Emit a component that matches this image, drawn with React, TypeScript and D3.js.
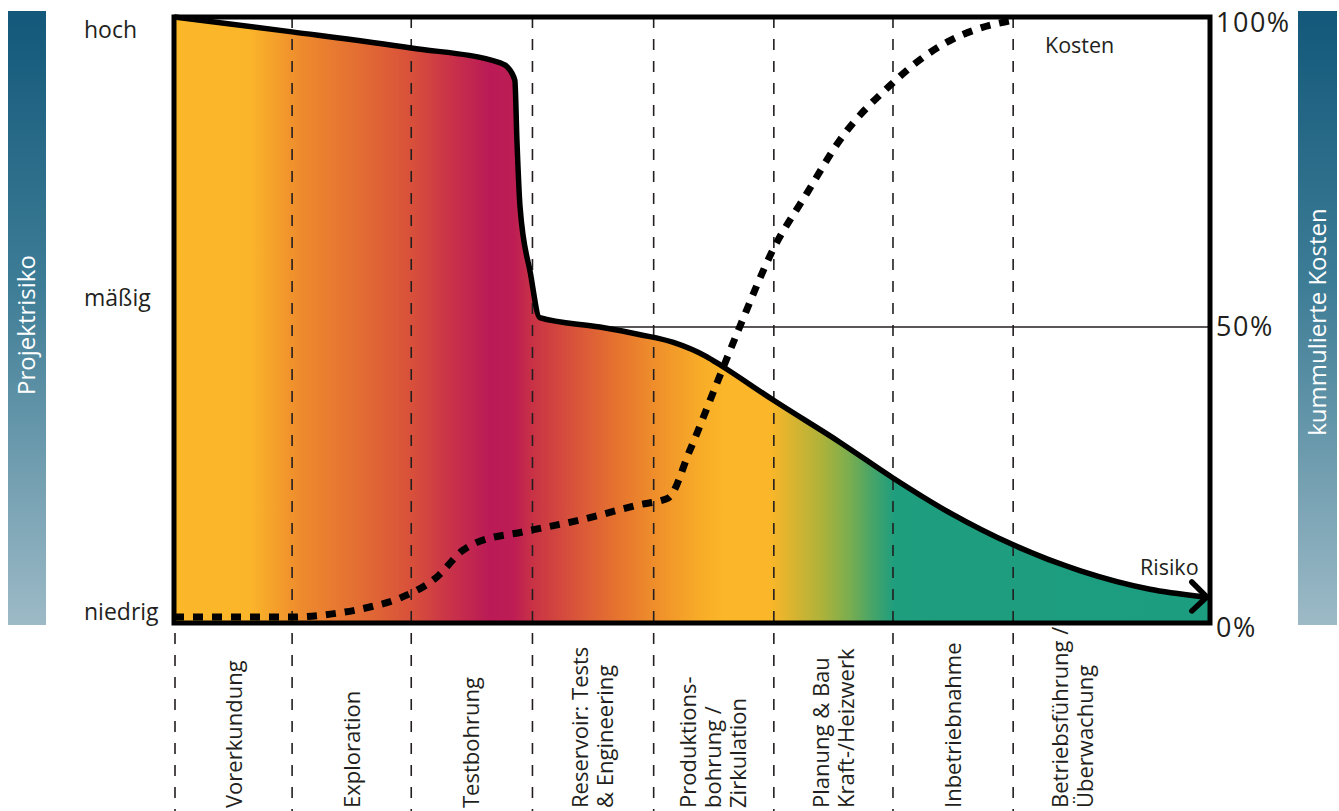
import * as d3 from "d3";

// phase boundaries along the project timeline (0..100 = plot width)
const phaseStarts = [0, 11.4, 22.9, 34.6, 46.3, 57.9, 69.4, 81.0];
const phaseWidth = 11.57;
const phaseLabels = [
  ["Vorerkundung"],
  ["Exploration"],
  ["Testbohrung"],
  ["Reservoir: Tests", "& Engineering"],
  ["Produktions-", "bohrung /", "Zirkulation"],
  ["Planung & Bau", "Kraft-/Heizwerk"],
  ["Inbetriebnahme"],
  ["Betriebsführung /", "Überwachung"],
];

// project risk (0 = niedrig, 50 = mäßig, 100 = hoch)
const riskX = [0, 11.4, 22.9, 31.5, 32.2, 32.9, 33.1, 33.4, 34.4, 35.3, 41.1, 45, 48.2, 51.4, 52.8, 57.8, 64.3, 69.4, 74.9, 81, 87.5, 94.2, 99.5, 100];
const riskY = [100, 97.6, 95, 92.6, 91.9, 89.8, 80.2, 69.4, 58.7, 51.5, 50, 48.7, 47.4, 45.0, 43.5, 37.7, 30.5, 24.5, 18.6, 13.2, 8.8, 5.7, 4.4, 4.3];

// cumulative costs in %
const costX = [0, 11.2, 15.1, 18.9, 21.8, 25.4, 27.9, 29.1, 33.7, 39.2, 44.7, 47.7, 49.8, 52.4, 54.6, 57.8, 61.1, 64.3, 69.4, 72, 74.9, 77.8, 80.7];
const costY = [1.0, 1.0, 1.5, 2.7, 4.2, 7.8, 12.3, 13.5, 15.4, 17.4, 19.9, 21.1, 29.2, 40.5, 50, 62.4, 71.6, 80.2, 89.4, 93.1, 96.2, 98.2, 99.4];

const leftTicks = ["niedrig", "mäßig", "hoch"];
const rightTicks = ["0%", "50%", "100%"];

// gradient colour stops along the timeline
const fillStopX = [0, 7.3, 12.2, 17.9, 22.9, 27.0, 30.4, 32.8, 34.7, 39.1, 42.9, 46.5, 50.8, 53.0, 57.5, 59.9, 62.5, 65.3, 67.2, 69.5, 100];
const fillStopColor = ["#FBB829", "#FBB52A", "#EE8B2D", "#E36D33", "#D8503A", "#C8304A", "#BA1B56", "#BD1D54", "#C93345", "#DA5739", "#E6742F", "#EF8F2B", "#F8AC28", "#FBB629", "#FBB629", "#D6B431", "#AEB23A", "#78AD50", "#4BA566", "#1F9E7E", "#1C9D80"];

const W = 1339;
const H = 811;
const font = "'Open Sans', 'Noto Sans', sans-serif";
const ink = "#231f20";

export default function App() {
  const x = d3.scaleLinear().domain([0, 100]).range([174, 1210]);
  const y = d3.scaleLinear().domain([0, 50, 100]).range([623, 327, 17]);

  const risk = riskX.map((v, i) => ({ x: v, y: riskY[i] }));
  const cost = costX.map((v, i) => ({ x: v, y: costY[i] }));

  const area = d3
    .area<{ x: number; y: number }>()
    .x((d) => x(d.x))
    .y0(y(0))
    .y1((d) => y(d.y))
    .curve(d3.curveMonotoneX);
  const line = d3
    .line<{ x: number; y: number }>()
    .x((d) => x(d.x))
    .y((d) => y(d.y))
    .curve(d3.curveMonotoneX);

  const last = risk[risk.length - 2];
  const tipX = x(last.x) + 2;
  const tipY = y(last.y);

  return (
    <svg
      width={W}
      height={H}
      style={{ position: "fixed", left: 0, top: 0, background: "#fff" }}
      fontFamily={font}
    >
      <defs>
        <linearGradient id="riskFill" gradientUnits="userSpaceOnUse" x1={x(0)} x2={x(100)} y1={0} y2={0}>
          {fillStopX.map((s, i) => (
            <stop key={i} offset={`${s}%`} stopColor={fillStopColor[i]} />
          ))}
        </linearGradient>
        <linearGradient id="sideBar" x1="0" x2="0" y1="0" y2="1">
          <stop offset="0%" stopColor="#13587A" />
          <stop offset="45%" stopColor="#3E7D96" />
          <stop offset="100%" stopColor="#9DBAC6" />
        </linearGradient>
      </defs>

      {/* side bars */}
      <rect x={8} y={11} width={38} height={614} fill="url(#sideBar)" />
      <rect x={1298} y={11} width={39} height={614} fill="url(#sideBar)" />
      <text
        transform={`translate(27,${y(50) - 2}) rotate(-90)`}
        textAnchor="middle"
        dy="0.35em"
        fill="#fff"
        fontSize={24}
      >
        Projektrisiko
      </text>
      <text
        transform={`translate(1318,${y(50) - 5}) rotate(-90)`}
        textAnchor="middle"
        dy="0.35em"
        fill="#fff"
        fontSize={24}
      >
        kummulierte Kosten
      </text>

      {/* 50% line */}
      <line x1={x(0)} x2={x(100)} y1={y(50)} y2={y(50)} stroke={ink} strokeWidth={1.5} />

      {/* risk area */}
      <path d={area(risk) ?? ""} fill="url(#riskFill)" />

      {/* phase dividers */}
      {phaseStarts.map((p, i) => (
        <line
          key={i}
          x1={x(p) + (i === 0 ? 1 : 0)}
          x2={x(p) + (i === 0 ? 1 : 0)}
          y1={y(100)}
          y2={H}
          stroke={ink}
          strokeWidth={1.6}
          strokeDasharray="11 11"
        />
      ))}

      {/* risk line */}
      <path d={line(risk) ?? ""} fill="none" stroke="#000" strokeWidth={5.5} strokeLinejoin="round" />

      {/* cost line */}
      <path d={line(cost) ?? ""} fill="none" stroke="#000" strokeWidth={7} strokeDasharray="10 9" />

      {/* frame */}
      <rect x={x(0)} y={y(100)} width={x(100) - x(0)} height={y(0) - y(100)} fill="none" stroke="#000" strokeWidth={5} />

      {/* arrow head */}
      <path
        d={`M${tipX - 15},${tipY - 15} L${tipX},${tipY} L${tipX - 15},${tipY + 14}`}
        fill="none"
        stroke="#000"
        strokeWidth={5.5}
        strokeLinecap="round"
        strokeLinejoin="round"
      />

      {/* left axis labels */}
      {leftTicks.map((t, i) => (
        <text key={t} x={84} y={[620, 306, 38][i]} fontSize={23} fill={ink}>
          {t}
        </text>
      ))}

      {/* right axis labels */}
      {rightTicks.map((t, i) => (
        <text key={t} x={1216} y={[637, 336, 32][i]} fontSize={27} fill={ink} letterSpacing={1.5}>
          {t}
        </text>
      ))}

      <text x={1045} y={53} fontSize={21.5} fill={ink}>
        Kosten
      </text>
      <text x={1140} y={575} fontSize={21.5} fill={ink}>
        Risiko
      </text>

      {/* phase labels */}
      {phaseLabels.map((lines, i) => {
        const cx = x(phaseStarts[i] + phaseWidth / 2);
        const n = lines.length;
        return lines.map((l, j) => (
          <text
            key={`${i}-${j}`}
            transform={`translate(${cx + (j - (n - 1) / 2) * 25},808) rotate(-90)`}
            dy="0.35em"
            fontSize={22}
            fill={ink}
          >
            {l}
          </text>
        ));
      })}
    </svg>
  );
}
